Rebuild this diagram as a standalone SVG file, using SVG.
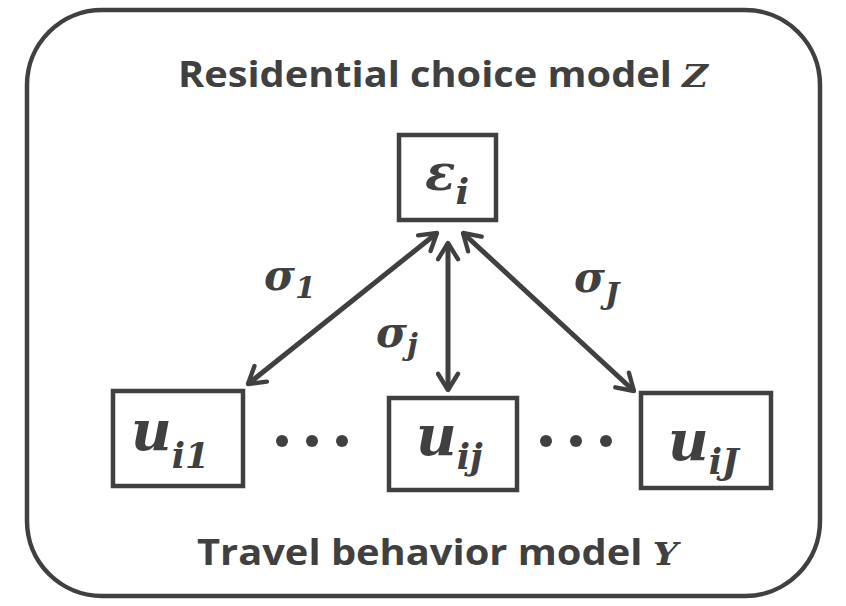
<svg xmlns="http://www.w3.org/2000/svg" width="846" height="606" viewBox="0 0 846 606">
<defs>
<style>
.frame{fill:none;stroke:#404040;stroke-width:4.5}
.box{fill:#fff;stroke:#404040;stroke-width:4.5}
.title{font-family:"Open Sans","Noto Sans",sans-serif;font-weight:bold;font-size:36px;fill:#404040}
.tv{font-family:"DejaVu Serif","Liberation Serif",serif;font-style:italic;font-weight:bold}
.mi{font-family:"DejaVu Serif","Liberation Serif",serif;font-style:italic;font-weight:bold;fill:#404040}
.conn{stroke:#404040;stroke-width:5;fill:none}
.dot{fill:#404040}
</style>
<marker id="ah" viewBox="0 0 20 20" refX="17" refY="10" markerWidth="5" markerHeight="5" orient="auto-start-reverse" markerUnits="strokeWidth">
<path d="M4,2 L17,10 L4,18" fill="none" stroke="#404040" stroke-width="3.5" stroke-linecap="round" stroke-linejoin="round"/>
</marker>
</defs>
<rect class="frame" x="27" y="10" width="793" height="586" rx="75" ry="75"/>
<text class="title" x="178" y="87" textLength="530" lengthAdjust="spacingAndGlyphs">Residential choice model <tspan class="tv" font-size="32">Z</tspan></text>
<text class="title" x="197" y="565" textLength="481" lengthAdjust="spacingAndGlyphs">Travel behavior model <tspan class="tv" font-size="32">Y</tspan></text>
<g id="connectors">
<line class="conn" x1="437" y1="233" x2="248" y2="384" marker-start="url(#ah)" marker-end="url(#ah)"/>
<line class="conn" x1="448" y1="243" x2="448" y2="390" marker-start="url(#ah)" marker-end="url(#ah)"/>
<line class="conn" x1="463" y1="233" x2="634" y2="391" marker-start="url(#ah)" marker-end="url(#ah)"/>
</g>
<g id="labels">
<text class="mi" x="264" y="290" font-size="42">σ<tspan font-size="30" dy="8">1</tspan></text>
<text class="mi" x="376" y="347" font-size="42">σ<tspan font-size="30" dy="8">j</tspan></text>
<text class="mi" x="574" y="292" font-size="42">σ<tspan font-size="30" dy="12">J</tspan></text>
</g>
<g id="node-eps">
<rect class="box" x="399" y="135" width="97" height="85"/>
<text class="mi" x="425" y="190" font-size="50">ε<tspan font-size="36" dy="14">i</tspan></text>
</g>
<g id="node-ui1">
<rect class="box" x="113" y="391" width="130" height="95"/>
<text class="mi" x="131" y="450" font-size="56">u<tspan font-size="35" dy="18">i1</tspan></text>
</g>
<g id="dots1">
<circle class="dot" cx="282" cy="441" r="6"/><circle class="dot" cx="312" cy="441" r="6"/><circle class="dot" cx="342" cy="441" r="6"/>
</g>
<g id="node-uij">
<rect class="box" x="389" y="398" width="128" height="92"/>
<text class="mi" x="416" y="455" font-size="56">u<tspan font-size="35" dy="14">ij</tspan></text>
</g>
<g id="dots2">
<circle class="dot" cx="546" cy="441" r="6"/><circle class="dot" cx="576" cy="441" r="6"/><circle class="dot" cx="606" cy="441" r="6"/>
</g>
<g id="node-uiJ">
<rect class="box" x="641" y="393" width="130" height="95"/>
<text class="mi" x="668" y="460" font-size="56">u<tspan font-size="35" dy="14">iJ</tspan></text>
</g>
</svg>
